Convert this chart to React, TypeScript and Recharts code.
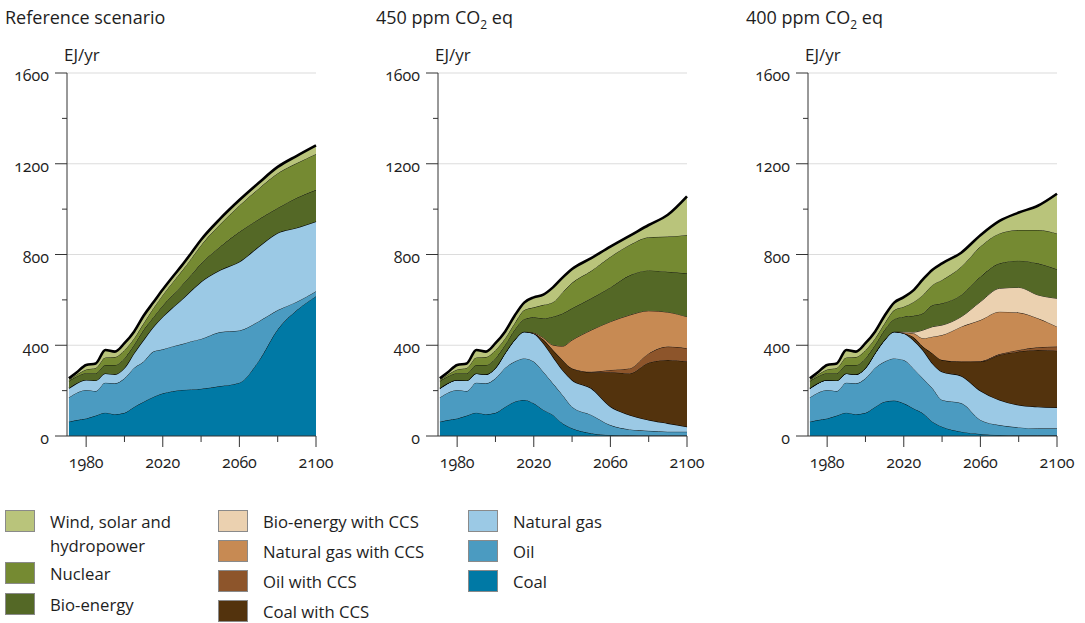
import React from 'react'
import { AreaChart, Area, XAxis, YAxis, CartesianGrid } from 'recharts'

const FONT = '"Open Sans", "Noto Sans", sans-serif'

const years = [1971, 1975, 1980, 1985, 1990, 1995, 2000, 2005, 2010, 2015, 2020, 2025, 2030, 2035, 2040, 2050, 2060, 2070, 2080, 2090, 2100]

// 1971-2010, same history in all three scenarios (EJ/yr per layer)
const histCoal = [63, 70, 77, 90, 103, 96, 102, 128, 151]
const histOil = [107, 120, 126, 108, 132, 136, 152, 172, 177]
const histGas = [40, 42, 44, 47, 41, 40, 46, 65, 96]
const histBio = [32, 30, 30, 32, 37, 41, 43, 36, 44]
const histNuclear = [5, 8, 16, 23, 33, 35, 36, 29, 29]
const histRenew = [7, 10, 20, 20, 33, 24, 30, 30, 33]
const histNone = [0, 0, 0, 0, 0, 0, 0, 0, 0]

// 2015-2100, reference scenario
const refCoal = [172, 188, 197, 203, 205, 208, 220, 235, 330, 470, 555, 616]
const refOil = [200, 194, 198, 202, 213, 220, 238, 230, 175, 85, 37, 22]
const refGas = [108, 144, 170, 197, 224, 252, 274, 303, 329, 340, 326, 308]
const refBio = [42, 49, 55, 63, 70, 80, 103, 132, 121, 110, 132, 139]
const refNuclear = [40, 47, 56, 63, 72, 81, 99, 116, 135, 153, 153, 158]
const refRenew = [26, 24, 24, 24, 24, 24, 24, 24, 25, 28, 32, 38]

// 2015-2100, 450 ppm CO2 eq
const p450Coal = [159, 144, 115, 93, 56, 34, 12, 4, 3, 2, 2, 2]
const p450Oil = [183, 184, 168, 139, 125, 95, 81, 44, 26, 21, 17, 17]
const p450Gas = [118, 124, 126, 118, 110, 118, 117, 82, 64, 48, 37, 22]
const p450CoalCcs = [0, 0, 16, 29, 44, 51, 71, 151, 183, 252, 279, 287]
const p450OilCcs = [0, 0, 0, 0, 0, 0, 2, 10, 22, 41, 59, 59]
const p450GasCcs = [0, 3, 8, 22, 61, 125, 184, 213, 235, 188, 152, 139]
const p450Bio = [55, 68, 86, 125, 144, 140, 140, 151, 175, 178, 178, 191]
const p450Nuclear = [40, 44, 59, 64, 93, 112, 121, 135, 134, 146, 155, 169]
const p450Renew = [33, 44, 45, 65, 65, 61, 56, 45, 40, 54, 96, 170]

// 2015-2100, 400 ppm CO2 eq
const p400Coal = [156, 144, 122, 100, 63, 41, 19, 9, 4, 3, 3, 3]
const p400Oil = [186, 191, 176, 154, 147, 118, 126, 62, 44, 35, 31, 31]
const p400Gas = [118, 118, 125, 125, 110, 124, 120, 129, 111, 99, 95, 92]
const p400CoalCcs = [0, 0, 13, 15, 44, 52, 63, 128, 198, 235, 250, 250]
const p400OilCcs = [0, 0, 0, 0, 0, 0, 0, 2, 4, 7, 12, 18]
const p400GasCcs = [0, 3, 17, 37, 74, 110, 154, 181, 187, 165, 128, 88]
const p400BioCcs = [0, 4, 5, 36, 44, 44, 44, 81, 103, 111, 103, 125]
const p400Bio = [55, 66, 72, 74, 95, 96, 96, 110, 110, 118, 139, 128]
const p400Nuclear = [40, 44, 60, 81, 89, 103, 124, 133, 132, 135, 147, 158]
const p400Renew = [33, 42, 52, 68, 67, 73, 62, 50, 55, 77, 107, 175]

const yTicks = [0, 200, 400, 600, 800, 1000, 1200, 1400, 1600]
const xTicks = [1980, 2000, 2020, 2040, 2060, 2080, 2100]

// stacking order, bottom first
const LAYERS = [
  { key: 'coal', name: 'Coal', color: '#0079a5' },
  { key: 'oil', name: 'Oil', color: '#4b9bc1' },
  { key: 'gas', name: 'Natural gas', color: '#9bc9e5' },
  { key: 'coalCcs', name: 'Coal with CCS', color: '#53330d' },
  { key: 'oilCcs', name: 'Oil with CCS', color: '#8d552b' },
  { key: 'gasCcs', name: 'Natural gas with CCS', color: '#c78a53' },
  { key: 'bioCcs', name: 'Bio-energy with CCS', color: '#ebd1b0' },
  { key: 'bio', name: 'Bio-energy', color: '#546826' },
  { key: 'nuclear', name: 'Nuclear', color: '#758a32' },
  { key: 'renew', name: 'Wind, solar and hydropower', color: '#b9c47b' },
]
const colorOf = (key: string) => LAYERS.find(l => l.key === key)!.color

type Series = Record<string, number[]>

function buildRows(series: Series) {
  return years.map((year, i) => {
    const row: Record<string, number> = { year }
    Object.keys(series).forEach(k => { row[k] = series[k][i] })
    return row
  })
}

const refRows = buildRows({
  coal: histCoal.concat(refCoal),
  oil: histOil.concat(refOil),
  gas: histGas.concat(refGas),
  bio: histBio.concat(refBio),
  nuclear: histNuclear.concat(refNuclear),
  renew: histRenew.concat(refRenew),
})

const p450Rows = buildRows({
  coal: histCoal.concat(p450Coal),
  oil: histOil.concat(p450Oil),
  gas: histGas.concat(p450Gas),
  coalCcs: histNone.concat(p450CoalCcs),
  oilCcs: histNone.concat(p450OilCcs),
  gasCcs: histNone.concat(p450GasCcs),
  bio: histBio.concat(p450Bio),
  nuclear: histNuclear.concat(p450Nuclear),
  renew: histRenew.concat(p450Renew),
})

const p400Rows = buildRows({
  coal: histCoal.concat(p400Coal),
  oil: histOil.concat(p400Oil),
  gas: histGas.concat(p400Gas),
  coalCcs: histNone.concat(p400CoalCcs),
  oilCcs: histNone.concat(p400OilCcs),
  gasCcs: histNone.concat(p400GasCcs),
  bioCcs: histNone.concat(p400BioCcs),
  bio: histBio.concat(p400Bio),
  nuclear: histNuclear.concat(p400Nuclear),
  renew: histRenew.concat(p400Renew),
})

const AXIS = '#333'
const TEXT = '#1e1e1e'

function XTick(props: any) {
  const { x, y, payload } = props
  const major = (payload.value - 1980) % 40 === 0
  return (
    <g>
      <line x1={x} x2={x} y1={y} y2={y + (major ? 11 : 6)} stroke={AXIS} strokeWidth={1} />
      {major && (
        <text x={x} y={y + 32} textAnchor="middle" fontSize={16} fill={TEXT} fontFamily={FONT}
          style={{ fontVariantNumeric: 'oldstyle-nums' }}>
          {payload.value}
        </text>
      )}
    </g>
  )
}

function YTick(props: any) {
  const { x, y, payload } = props
  const major = payload.value % 400 === 0
  return (
    <g>
      <line x1={x - (major ? 12 : 5)} x2={x} y1={y} y2={y} stroke={AXIS} strokeWidth={1} />
      {major && (
        <text x={x - 18} y={y + 8} textAnchor="end" fontSize={16} fill={TEXT} fontFamily={FONT}
          style={{ fontVariantNumeric: 'oldstyle-nums' }}>
          {payload.value}
        </text>
      )}
    </g>
  )
}

interface ScenarioProps {
  rows: Record<string, number>[]
  keys: string[]
  axisX: number
  title: React.ReactNode
}

function Scenario({ rows, keys, axisX, title }: ScenarioProps) {
  const top = keys[keys.length - 1]
  return (
    <>
      <div style={{ position: 'absolute', left: axisX - 62, top: 5, fontSize: 18, lineHeight: '24px', color: TEXT, whiteSpace: 'nowrap' }}>
        {title}
      </div>
      <div style={{ position: 'absolute', left: axisX - 3, top: 43, fontSize: 17, lineHeight: '24px', color: TEXT }}>EJ/yr</div>
      <div style={{ position: 'absolute', left: axisX - 60, top: 40 }}>
        <AreaChart width={339} height={436} data={rows} margin={{ top: 33, right: 30, bottom: 0, left: 0 }}>
          <CartesianGrid vertical={false} horizontalValues={[400, 800, 1200, 1600]} stroke="#dcdcdc" strokeWidth={1.2} />
          <XAxis dataKey="year" type="number" domain={[1970, 2100]} ticks={xTicks} interval={0}
            height={40} tickSize={0} tickMargin={0} tickLine={false} tick={<XTick />}
            axisLine={{ stroke: AXIS, strokeWidth: 1 }} />
          <YAxis type="number" domain={[0, 1600]} ticks={yTicks} interval={0} width={60}
            tickSize={0} tickMargin={0} tickLine={false} tick={<YTick />}
            axisLine={{ stroke: AXIS, strokeWidth: 1 }} />
          {keys.map(k => (
            <Area key={k} type="monotone" dataKey={k} stackId="s" fill={colorOf(k)} fillOpacity={1}
              stroke="#000" strokeWidth={k === top ? 2.6 : k === 'gas' ? 1.2 : 0.8}
              isAnimationActive={false} activeDot={false} />
          ))}
        </AreaChart>
      </div>
    </>
  )
}

const legendCols = [
  { x: 5, items: [['renew', 510], ['nuclear', 562], ['bio', 593]] },
  { x: 218, items: [['bioCcs', 510], ['gasCcs', 540], ['oilCcs', 570], ['coalCcs', 600]] },
  { x: 468, items: [['gas', 510], ['oil', 540], ['coal', 570]] },
] as const

function Legend() {
  return (
    <>
      {legendCols.map(col =>
        col.items.map(([key, y]) => {
          const layer = LAYERS.find(l => l.key === key)!
          return (
            <React.Fragment key={key}>
              <div style={{
                position: 'absolute', left: col.x, top: y, width: 30, height: 22,
                background: layer.color, border: '1px solid #8a8a8a', boxSizing: 'border-box',
              }} />
              <div style={{
                position: 'absolute', left: col.x + 45, top: y, fontSize: 16.7, lineHeight: '24px',
                color: TEXT, width: key === 'renew' ? 140 : 230,
              }}>
                {key === 'renew' ? <>Wind, solar and<br />hydropower</> : layer.name}
              </div>
            </React.Fragment>
          )
        })
      )}
    </>
  )
}

const refKeys = ['coal', 'oil', 'gas', 'bio', 'nuclear', 'renew']
const p450Keys = ['coal', 'oil', 'gas', 'coalCcs', 'oilCcs', 'gasCcs', 'bio', 'nuclear', 'renew']
const p400Keys = ['coal', 'oil', 'gas', 'coalCcs', 'oilCcs', 'gasCcs', 'bioCcs', 'bio', 'nuclear', 'renew']

export default function App() {
  return (
    <div style={{ position: 'absolute', left: 0, top: 0, width: 1085, height: 623, background: '#fff', fontFamily: FONT, overflow: 'hidden' }}>
      <Scenario rows={refRows} keys={refKeys} axisX={67} title="Reference scenario" />
      <Scenario rows={p450Rows} keys={p450Keys} axisX={438}
        title={<>450 ppm CO<sub style={{ fontSize: 12 }}>2</sub> eq</>} />
      <Scenario rows={p400Rows} keys={p400Keys} axisX={808}
        title={<>400 ppm CO<sub style={{ fontSize: 12 }}>2</sub> eq</>} />
      <Legend />
    </div>
  )
}
